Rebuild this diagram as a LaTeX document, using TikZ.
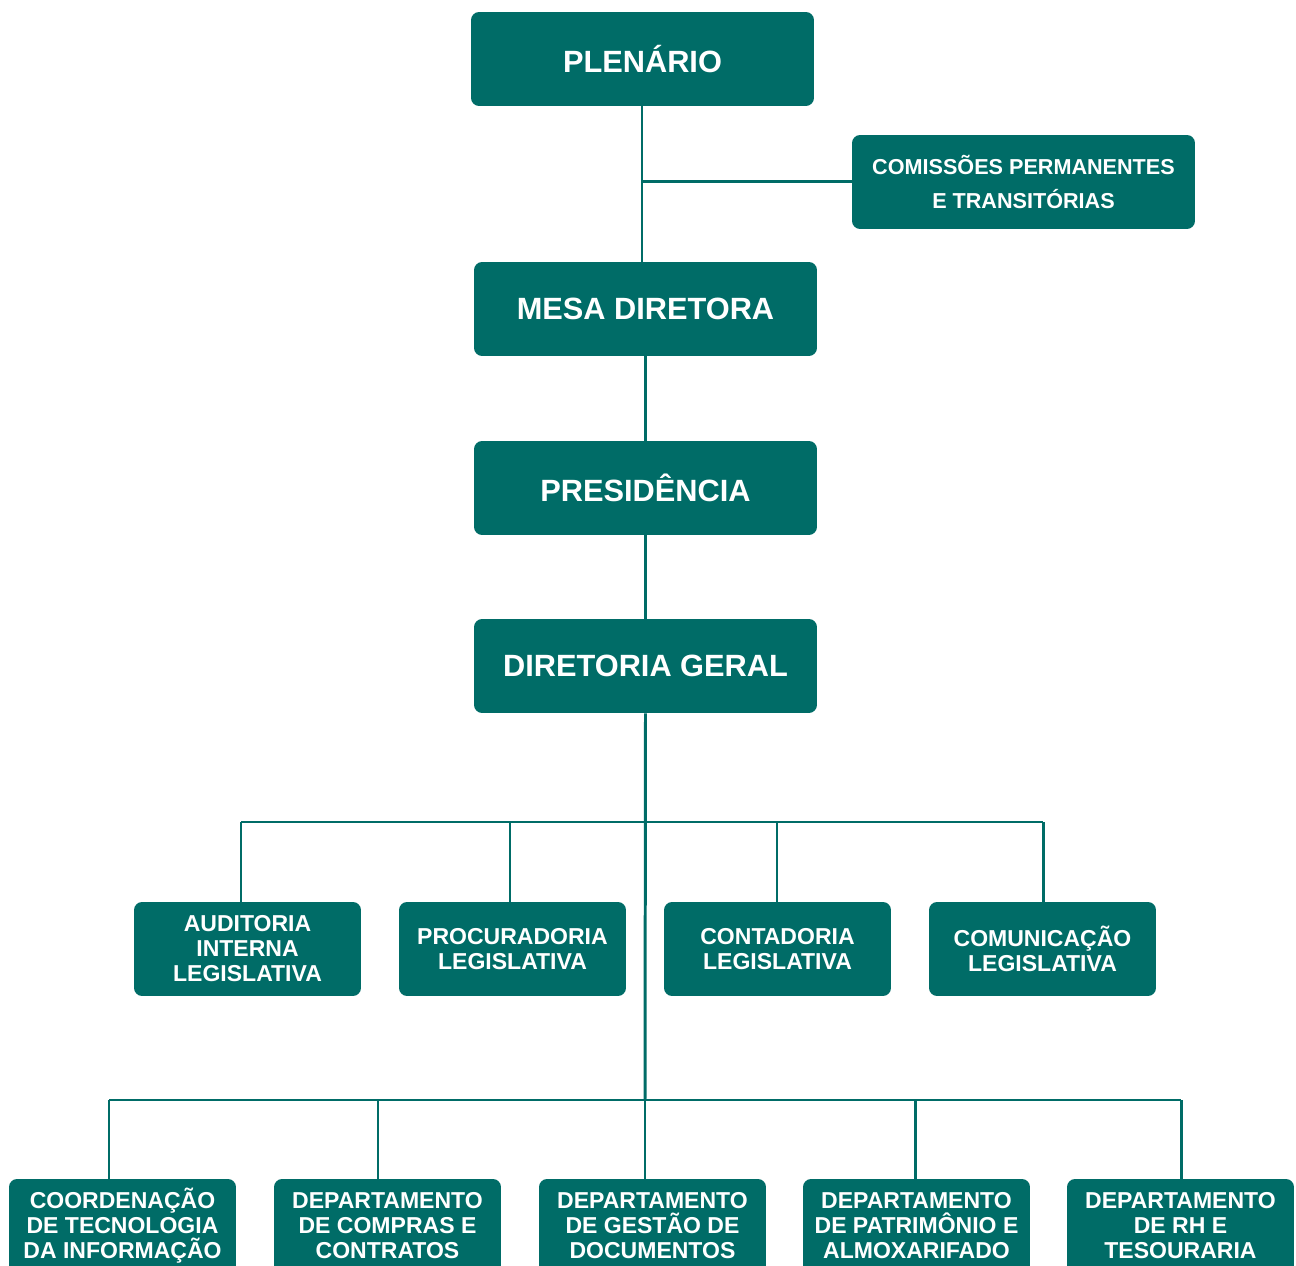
\documentclass[tikz,border=0pt]{standalone}
\usepackage{fontspec}
\setmainfont{Liberation Sans}
\definecolor{orgteal}{RGB}{0,108,103}

\begin{document}
\begin{tikzpicture}[x=0.02cm,y=-0.02cm,
	box/.style={fill=orgteal,text=white,rounded corners=0.16cm,align=center,inner sep=0pt,minimum height=1.88cm},
	bigbox/.style={box,minimum width=6.86cm,font=\bfseries\fontsize{17.5}{21}\selectfont},
	combox/.style={box,minimum width=6.86cm,font=\bfseries\fontsize{12.3}{19.3}\selectfont},
	unitbox/.style={box,minimum width=4.54cm,font=\bfseries\fontsize{13.1}{14.2}\selectfont},
	link/.style={draw=orgteal,line width=1.7pt}]
	\useasboundingbox (0,0) rectangle (1296,1266);

	\node[bigbox] (plen) at (642.5,59) {PLENÁRIO};
	\node[combox] (com) at (1023.5,182) {COMISSÕES PERMANENTES\\E TRANSITÓRIAS};
	\node[bigbox] (mesa) at (645.5,309) {MESA DIRETORA};
	\node[bigbox] (pres) at (645.5,488) {PRESIDÊNCIA};
	\node[bigbox] (dg) at (645.5,666) {DIRETORIA GERAL};

	\node[unitbox] (aud) at (247.5,949) {AUDITORIA\\INTERNA\\LEGISLATIVA};
	\node[unitbox] (proc) at (512.5,949) {PROCURADORIA\\LEGISLATIVA};
	\node[unitbox] (cont) at (777.5,949) {CONTADORIA\\LEGISLATIVA};
	\node[unitbox] (comu) at (1042.5,949) {COMUNICAÇÃO\\LEGISLATIVA};

	\node[unitbox] (cti) at (122.5,1226) {COORDENAÇÃO\\DE TECNOLOGIA\\DA INFORMAÇÃO};
	\node[unitbox] (dcc) at (387.5,1226) {DEPARTAMENTO\\DE COMPRAS E\\CONTRATOS};
	\node[unitbox] (dgd) at (652.5,1226) {DEPARTAMENTO\\DE GESTÃO DE\\DOCUMENTOS};
	\node[unitbox] (dpa) at (916.5,1226) {DEPARTAMENTO\\DE PATRIMÔNIO E\\ALMOXARIFADO};
	\node[unitbox] (drh) at (1180.5,1226) {DEPARTAMENTO\\DE RH E\\TESOURARIA};

	\coordinate (top) at (642,106);
	\coordinate (mid) at (645,822);
	\coordinate (low) at (645,1100);

	\draw[link] (top) -- (top |- mesa.north);
	\draw[link] (top |- com.west) -- (com.west);
	\draw[link] (mesa) -- (pres);
	\draw[link] (pres) -- (dg);
	\draw[link] (dg.south) -- (low);

	\draw[link] (241,822) -- (1043,822);
	\foreach \n/\x in {aud/241,proc/510,cont/777,comu/1043}
		\draw[link] (\x,822) -- (\x,822 |- \n.north);

	\draw[link] (109,1100) -- (1181,1100);
	\foreach \n/\x in {cti/109,dcc/378,dgd/645,dpa/915,drh/1181}
		\draw[link] (\x,1100) -- (\x,1100 |- \n.north);
\end{tikzpicture}
\end{document}
